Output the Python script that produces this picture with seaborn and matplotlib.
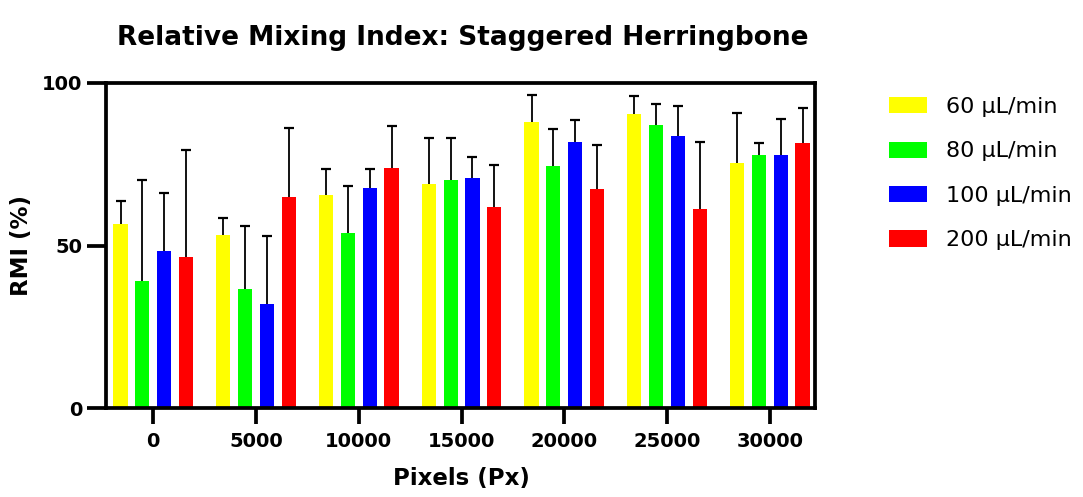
import matplotlib
matplotlib.use("Agg")
import matplotlib.pyplot as plt
import seaborn as sns
import pandas as pd
import numpy as np

pixels = ["0", "5000", "10000", "15000", "20000", "25000", "30000"]
flows = ["60 µL/min", "80 µL/min", "100 µL/min", "200 µL/min"]
rmi_60 = [56.7, 53.1, 65.5, 68.9, 88.1, 90.4, 75.3]
rmi_80 = [39.2, 36.5, 54.0, 70.2, 74.6, 87.0, 78.0]
rmi_100 = [48.2, 32.1, 67.6, 70.8, 82.0, 83.7, 78.0]
rmi_200 = [46.6, 64.8, 73.9, 61.8, 67.3, 61.3, 81.5]
err_60 = [7.0, 5.4, 8.1, 14.3, 8.2, 5.6, 15.6]
err_80 = [30.9, 19.4, 14.4, 12.9, 11.2, 6.5, 3.4]
err_100 = [18.1, 20.8, 5.8, 6.3, 6.7, 9.3, 10.9]
err_200 = [32.9, 21.5, 12.8, 12.9, 13.7, 20.7, 10.8]
colors = ["#FFFF00", "#00FF00", "#0000FF", "#FF0000"]

means = [rmi_60, rmi_80, rmi_100, rmi_200]
errs = [err_60, err_80, err_100, err_200]

df = pd.DataFrame({
    "Pixels": [p for _ in flows for p in pixels],
    "Flow": [f for f in flows for _ in pixels],
    "RMI": [v for m in means for v in m],
})

sns.set_theme(style="ticks")
plt.rcParams["font.family"] = ["DejaVu Sans"]
plt.rcParams["text.color"] = "black"
plt.rcParams["xtick.color"] = "black"
plt.rcParams["ytick.color"] = "black"
plt.rcParams["xtick.labelcolor"] = "black"
plt.rcParams["ytick.labelcolor"] = "black"

fig = plt.figure(figsize=(10.83, 4.97), dpi=100)
ax = fig.add_axes([106 / 1083, 1 - 408 / 497, (815 - 106) / 1083, (408 - 83) / 497])

sns.barplot(data=df, x="Pixels", y="RMI", hue="Flow", order=pixels, hue_order=flows,
            palette=colors, width=0.85, gap=0.35, errorbar=None, ax=ax,
            saturation=1, linewidth=0, legend=False)

for cont, e in zip(ax.containers, errs):
    xs = [b.get_x() + b.get_width() / 2 for b in cont]
    ys = [b.get_height() for b in cont]
    _, caps, _ = ax.errorbar(xs, ys, yerr=[np.zeros(len(e)), e], fmt="none",
                             ecolor="black", elinewidth=1.3, capsize=3.5,
                             capthick=1.6, zorder=1)
    for c in caps:
        if np.allclose(c.get_ydata(), ys):
            c.set_visible(False)

ax.set_xlim(-0.46, 6.44)
ax.set_ylim(0, 100)
ax.set_yticks([0, 50, 100])
for s in ax.spines.values():
    s.set_visible(True)
    s.set_linewidth(2.7)
    s.set_color("black")
ax.tick_params(axis="both", which="major", length=11.5, width=2.7, color="black",
               direction="out", labelsize=14, pad=6, labelcolor="black",
               bottom=True, left=True)
ax.tick_params(axis="y", length=14, pad=3)
for lab in ax.get_xticklabels() + ax.get_yticklabels():
    lab.set_fontweight("bold")
ax.set_xlabel("")
ax.set_ylabel("")

fig.text(461 / 1083, 1 - 479 / 497, "Pixels (Px)", ha="center", va="center",
         fontsize=16.5, fontweight="bold")
fig.text(22 / 1083, 1 - 246 / 497, "RMI (%)", ha="center", va="center",
         rotation=90, fontsize=16.5, fontweight="bold")
fig.text(463 / 1083, 1 - 38 / 497, "Relative Mixing Index: Staggered Herringbone",
         ha="center", va="center", fontsize=19, fontweight="bold")

handles = [plt.Rectangle((0, 0), 1, 1, facecolor=c, edgecolor="none") for c in colors]
fig.legend(handles, flows, loc="upper left", bbox_to_anchor=(889 / 1083, 1 - 97 / 497),
           frameon=False, fontsize=16, handlelength=1.7, handleheight=0.75,
           handletextpad=0.85, labelspacing=1.1, borderpad=0, borderaxespad=0)

fig.savefig("out.png", dpi=100)
